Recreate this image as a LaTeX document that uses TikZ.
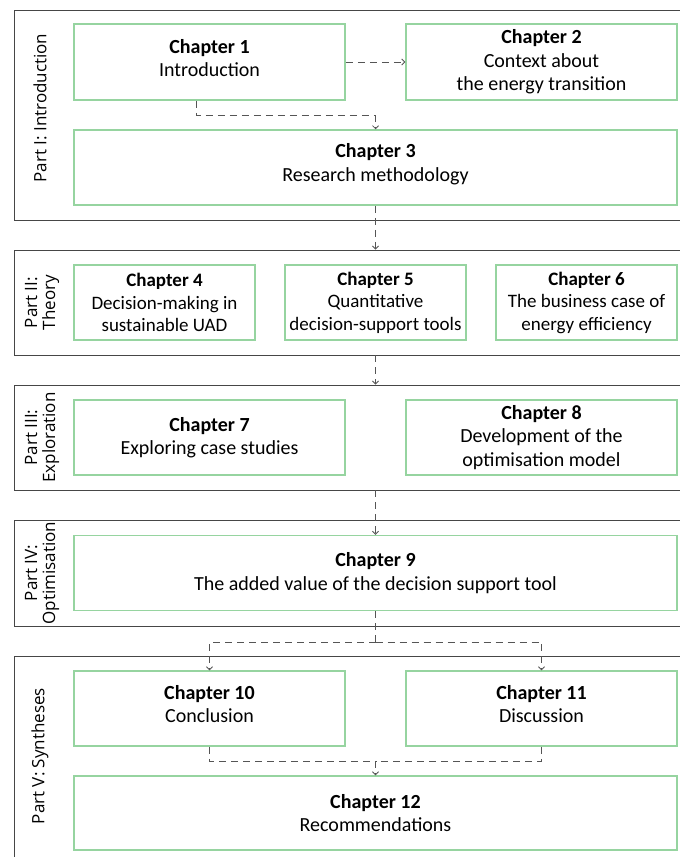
\documentclass[tikz,border=0pt]{standalone}
\usepackage{fontspec}
\setmainfont{Carlito}
\newfontfamily\partfont{Open Sans}
\usetikzlibrary{arrows.meta}
\definecolor{boxgreen}{RGB}{150,212,160}
\definecolor{framegray}{RGB}{70,70,70}
\definecolor{flowgray}{RGB}{85,85,85}

\begin{document}
\begin{tikzpicture}[x=1pt,y=-1pt,
  chap/.style={draw=boxgreen, line width=1.5pt, align=center, inner sep=0pt,
    font=\fontsize{20}{23.5}\selectfont},
  small/.style={font=\fontsize{19}{22.5}\selectfont},
  chaptext/.style={align=center, font=\fontsize{20}{23.5}\selectfont},
  partframe/.style={draw=framegray, line width=0.9pt, inner sep=0pt},
  partlabel/.style={rotate=90, align=center, inner sep=0pt,
    font=\partfont\fontsize{17}{18}\selectfont},
  flow/.style={draw=flowgray, line width=0.8pt, dash pattern=on 7pt off 5pt},
  tip/.style={-{Straight Barb[length=3pt,width=6pt]}}
]
\useasboundingbox (0,0) rectangle (680,857);
\clip (0,0) rectangle (680,857);

% part frames (right and lower edges run past the page)
\node[partframe, minimum width=690pt, minimum height=210pt] (p1) at (359,115) {};
\node[partframe, minimum width=690pt, minimum height=105pt] (p2) at (359,302.5) {};
\node[partframe, minimum width=690pt, minimum height=105pt] (p3) at (359,437.5) {};
\node[partframe, minimum width=690pt, minimum height=106pt] (p4) at (359,573) {};
\node[partframe, minimum width=690pt, minimum height=230pt] (p5) at (359,771) {};

% part labels
\node[partlabel] (l1) at (40,108) {Part I: Introduction};
\node[partlabel] (l2) at (42,302.5) {Part II:\\Theory};
\node[partlabel] (l3) at (42,437.5) {Part III:\\Exploration};
\node[partlabel] (l4) at (42,573) {Part IV:\\Optimisation};
\node[partlabel] (l5) at (40,756) {Part V: Syntheses};

% chapters
\node[chap, minimum width=271pt, minimum height=76pt] (c1) at (209.5,62) {};
\node[chaptext] (t1) at (209.5,58) {\textbf{Chapter 1}\\Introduction};
\node[chap, minimum width=271pt, minimum height=76pt] (c2) at (541.5,62) {\textbf{Chapter 2}\\Context about\\the energy transition};
\node[chap, minimum width=603pt, minimum height=75pt] (c3) at (375.5,167.5) {};
\node[chaptext] (t3) at (375.5,164) {\textbf{Chapter 3}\\Research methodology};

\node[chap, small, minimum width=181pt, minimum height=75pt] (c4) at (164.5,302.5) {\textbf{Chapter 4}\\Decision-making in\\sustainable UAD};
\node[chap, small, minimum width=181pt, minimum height=75pt] (c5) at (375.5,302.5) {\textbf{Chapter 5}\\Quantitative\\decision-support tools};
\node[chap, small, minimum width=181pt, minimum height=75pt] (c6) at (586.5,302.5) {\textbf{Chapter 6}\\The business case of\\energy efficiency};

\node[chap, minimum width=271pt, minimum height=75pt] (c7) at (209.5,437.5) {\textbf{Chapter 7}\\Exploring case studies};
\node[chap, minimum width=271pt, minimum height=75pt] (c8) at (541.5,437.5) {\textbf{Chapter 8}\\Development of the\\optimisation model};

\node[chap, minimum width=603pt, minimum height=75pt] (c9) at (375.5,573) {\textbf{Chapter 9}\\The added value of the decision support tool};

\node[chap, minimum width=271pt, minimum height=75pt] (c10) at (209.5,708.5) {};
\node[chaptext] (t10) at (209.5,704) {\textbf{Chapter 10}\\Conclusion};
\node[chap, minimum width=271pt, minimum height=75pt] (c11) at (541.5,708.5) {};
\node[chaptext] (t11) at (541.5,704) {\textbf{Chapter 11}\\Discussion};
\node[chap, minimum width=603pt, minimum height=74pt] (c12) at (375.5,813) {\textbf{Chapter 12}\\Recommendations};

% junction points of the connectors
\coordinate (j13) at (375.5,115);
\coordinate (j9) at (375.5,642);
\coordinate (j10) at (375.5,761);

% connectors
\draw[flow, tip] (c1.east) -- (c2.west);
\draw[flow] ([xshift=-13.5pt]c1.south) |- (j13);
\draw[flow, tip] (j13) -- (c3.north);
\draw[flow, tip] (c3.south) -- (c3.south |- p2.north);
\draw[flow, tip] (c3.south |- p2.south) -- (c3.south |- p3.north);
\draw[flow, tip] (c9.north |- p3.south) -- (c9.north);
\draw[flow] (c9.south) -- (j9);
\draw[flow, tip] (j9) -| (c10.north);
\draw[flow, tip] (j9) -| (c11.north);
\draw[flow] (c10.south) |- (j10);
\draw[flow] (c11.south) |- (j10);
\draw[flow, tip] (j10) -- (c12.north);
\end{tikzpicture}
\end{document}
